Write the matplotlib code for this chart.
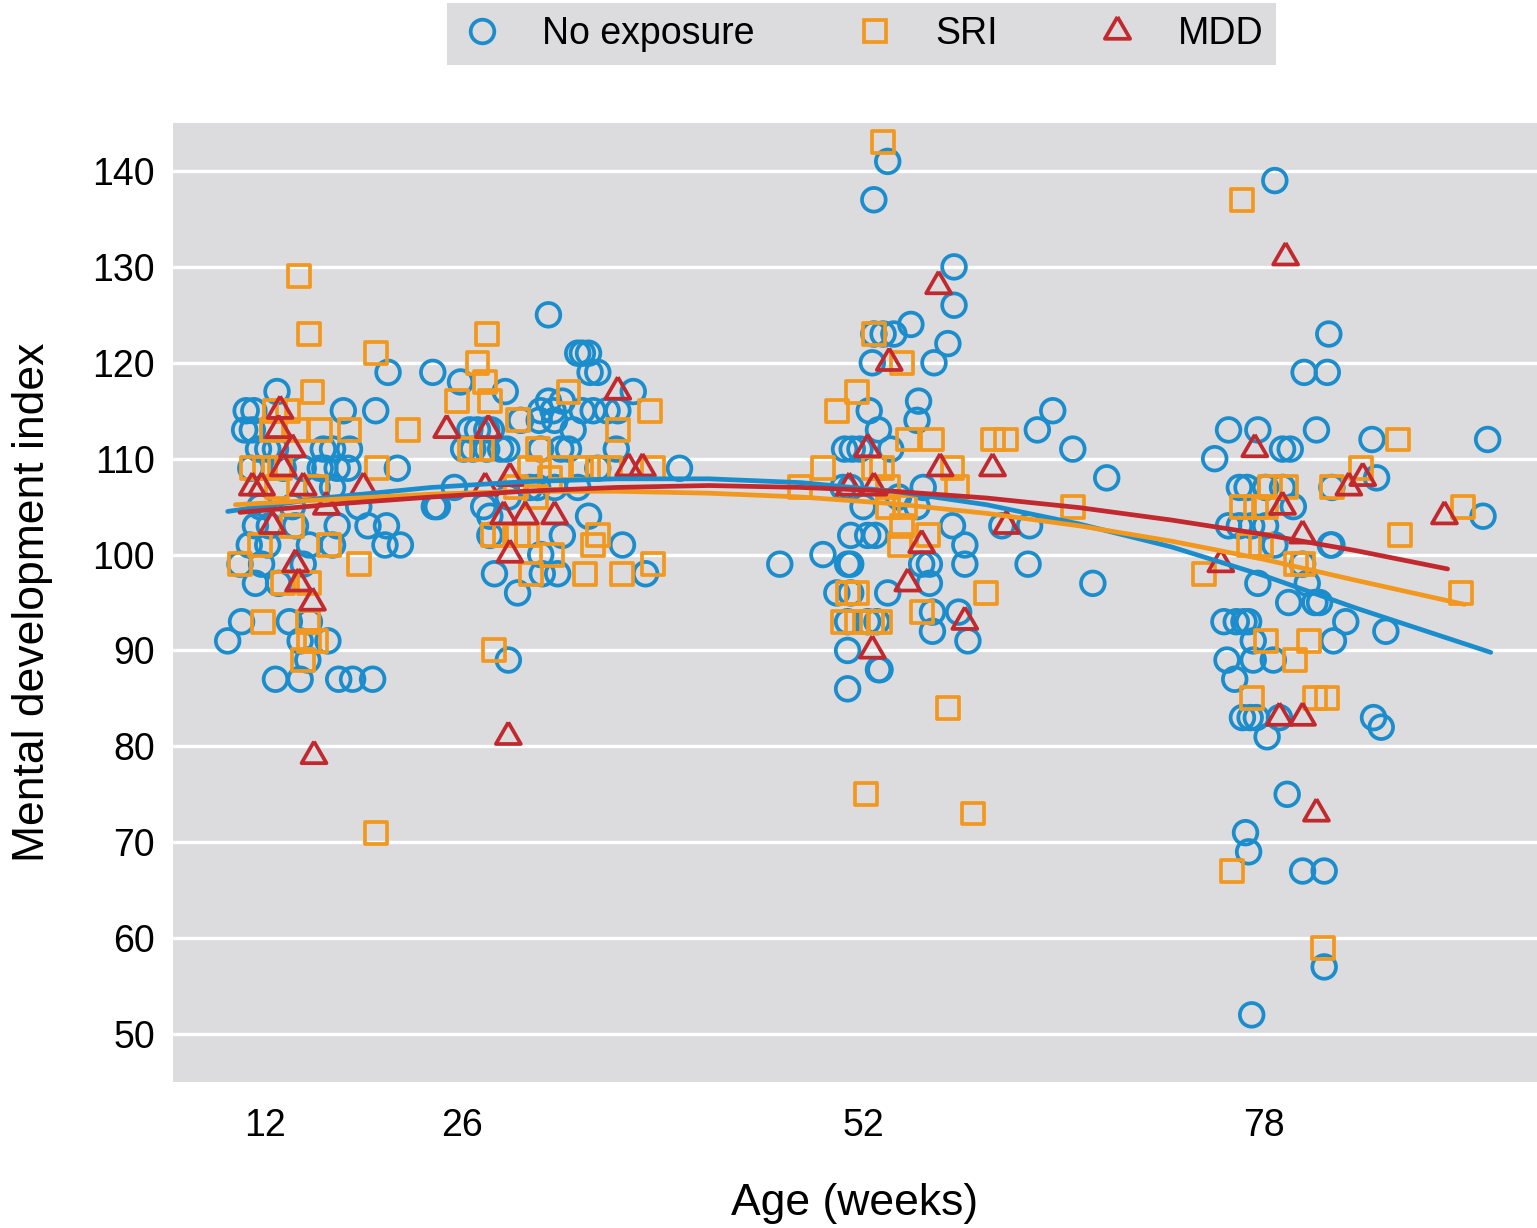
import numpy as np
import matplotlib.pyplot as plt
from matplotlib.lines import Line2D

plt.rcParams['font.family'] = ['Liberation Sans', 'DejaVu Sans']

# colours
c_none = '#1b8dcc'
c_sri = '#f2981f'
c_mdd = '#c1292e'

# ---- No exposure (age in weeks, MDI) ----
none_age = [14.0, 12.0, 12.5, 18.3, 20.4, 11.9, 12.4,
            13.4, 13.9, 17.0, 17.6, 18.7, 12.8,
            12.3, 14.4, 15.7, 16.8, 17.1, 17.9, 21.8, 18.6,
            16.6, 17.6, 12.9, 15.0, 19.3,
            12.6, 13.5, 15.2, 17.9, 19.9, 21.1,
            12.2, 13.4, 16.1, 17.6, 21.0, 22.0,
            11.6, 13.0, 15.7, 12.6, 14.1,
            11.7, 14.8, 16.1, 10.8, 15.5, 17.3, 16.0,
            13.9, 15.5, 18.0, 18.9, 20.2, 21.2,
            # 26 weeks
            31.6, 24.1, 25.9, 28.8, 33.5, 33.8, 34.2, 34.3, 34.8, 37.1, 31.6, 32.5,
            31.1, 31.9, 33.8, 34.5, 35.4, 36.1, 29.8, 31.0, 32.0,
            26.5, 27.0, 27.6, 27.9, 33.2,
            26.1, 26.7, 27.6, 28.5, 28.9, 31.1, 32.4, 32.9, 36.0, 40.1, 34.8,
            25.5, 30.4, 30.9, 32.0, 33.5, 29.0,
            24.2, 24.4, 27.4, 27.8, 27.8, 32.5, 34.2, 36.4, 31.1, 28.1, 31.2, 32.2, 37.9,
            29.6, 29.0,
            # 52 weeks
            53.6, 52.7, 57.9, 57.9, 52.7, 53.3, 54.0, 55.1, 57.5, 52.6, 56.6, 55.6, 55.5,
            52.4, 53.0, 64.3, 63.3, 65.6, 50.8, 51.3, 51.8, 53.8, 67.8,
            46.6, 49.4, 51.0, 51.2, 50.3, 51.2, 53.6, 51.0, 52.3, 52.9, 51.0, 53.0, 53.1,
            51.0, 51.2, 52.3, 52.8, 55.8, 56.3, 58.6, 58.6, 56.3, 56.5, 56.5, 58.2, 58.8,
            57.8, 62.7, 62.8, 61.0, 66.9, 52.0, 51.2, 50.7, 55.9, 54.3, 55.5,
            # 78 weeks
            78.7, 82.2, 80.6, 82.1, 75.7, 77.6, 81.4, 74.8, 79.2, 79.7, 85.0, 92.5, 85.3,
            76.4, 76.9, 78.1, 79.2, 82.4, 79.9, 75.7, 76.4, 77.2, 78.1, 82.4, 92.2, 78.7,
            75.4, 76.2, 76.7, 77.0, 83.3, 77.3, 82.5, 85.9, 75.6, 77.3, 78.6, 76.1,
            76.6, 77.1, 77.5, 79.0, 78.2, 85.1, 85.6, 79.5, 76.8, 77.0, 80.5, 81.9,
            81.9, 77.2, 77.6, 79.6, 81.3, 81.6, 80.8, 82.3, 80.5]
none_mdi = [117, 115, 115, 115, 115, 113, 113,
            111, 111, 111, 111, 111, 111,
            109, 109, 109, 109, 109, 109, 109, 109,
            107, 107, 105, 105, 105,
            103, 103, 103, 103, 103, 103,
            101, 101, 101, 101, 101, 101,
            99, 99, 99, 97, 97,
            93, 93, 93, 91, 91, 91, 89,
            87, 87, 87, 87, 87, 119,
            # 26 weeks
            125, 119, 118, 117, 121, 121, 121, 119, 119, 117, 116, 116,
            115, 115, 115, 115, 115, 115, 114, 114, 114,
            113, 113, 113, 113, 113,
            111, 111, 111, 111, 111, 111, 111, 111, 111, 109, 109,
            107, 107, 107, 107, 107, 106,
            105, 105, 105, 104, 102, 102, 104, 101, 100, 98, 98, 98, 98,
            96, 89,
            # 52 weeks
            141, 137, 130, 126, 123, 123, 123, 124, 122, 120, 120, 116, 114,
            115, 113, 115, 113, 111, 111, 111, 111, 111, 108,
            99, 100, 99, 99, 96, 96, 96, 93, 93, 93, 90, 88, 88,
            86, 102, 102, 102, 99, 99, 101, 99, 97, 94, 92, 94, 91,
            103, 99, 103, 103, 97, 105, 107, 107, 107, 106, 105,
            # 78 weeks
            139, 123, 119, 119, 113, 113, 113, 110, 111, 111, 112, 112, 108,
            107, 107, 107, 107, 107, 105, 103, 103, 103, 103, 101, 104, 101,
            93, 93, 93, 93, 93, 91, 91, 92, 89, 89, 89, 87,
            83, 83, 83, 83, 81, 83, 82, 75, 71, 69, 67, 67,
            57, 52, 97, 95, 95, 95, 97, 101, 99]

# ---- SRI ----
sri_age = [15.4, 16.1, 20.4, 16.3, 13.9, 14.7, 13.7, 15.3, 16.8, 18.7, 22.5,
           12.4, 13.2, 14.2, 20.5, 16.5, 14.0, 19.3, 11.6, 14.4, 16.1, 13.1, 16.0,
           16.1, 16.5, 15.7, 12.9, 17.4, 15.0, 20.4,
           # 26 weeks
           27.6, 27.0, 27.5, 25.7, 27.8, 32.9, 38.2, 29.6, 36.1, 26.5, 27.3, 30.9,
           34.8, 35.6, 33.7, 32.4, 38.4, 30.4, 29.5, 30.8, 31.7,
           28.0, 28.8, 29.6, 30.2, 31.8, 34.8, 34.5, 30.5, 34.0, 36.4, 38.4, 28.1,
           # 52 weeks
           53.3, 52.7, 54.5, 51.6, 50.3, 54.9, 56.5, 60.4, 61.3, 49.4, 52.7, 53.2,
           57.8, 47.9, 53.6, 58.1, 53.6, 54.7, 54.5, 56.2, 54.4, 65.6, 51.0, 51.6,
           50.7, 51.6, 52.6, 53.1, 55.8, 60.0, 57.5, 52.2, 59.1,
           # 78 weeks
           76.6, 86.7, 84.3, 82.4, 78.4, 79.4, 76.6, 77.5, 78.1, 90.9, 86.8, 77.0,
           77.8, 74.1, 90.8, 80.1, 80.5, 78.1, 80.9, 80.0, 77.2, 81.3, 82.1, 75.9, 81.8]
sri_mdi = [129, 123, 121, 117, 115, 115, 113, 113, 113, 113, 113,
           109, 109, 109, 109, 107, 107, 99, 99, 97, 97, 93, 93,
           91, 91, 89, 101, 101, 103, 71,
           # 26 weeks
           123, 120, 118, 116, 116, 117, 115, 114, 113, 111, 111, 111,
           109, 109, 109, 109, 109, 109, 107, 106, 108,
           102, 102, 102, 102, 100, 102, 101, 98, 98, 98, 99, 90,
           # 52 weeks
           143, 123, 120, 117, 115, 112, 112, 112, 112, 109, 109, 109,
           109, 107, 107, 107, 105, 105, 103, 102, 101, 105, 96, 96,
           93, 93, 93, 93, 94, 96, 84, 75, 73,
           # 78 weeks
           137, 112, 109, 107, 107, 107, 105, 105, 105, 105, 102, 101,
           101, 98, 96, 99, 99, 91, 91, 89, 85, 85, 85, 67, 59]

# ---- MDD ----
mdd_age = [14.2, 14.1, 15.0, 14.4, 12.4, 13.0, 15.7, 19.6, 17.2, 13.7, 15.2, 15.4, 16.3, 16.4,
           25.0, 27.7, 36.1, 36.8, 37.7, 29.1, 27.5, 28.7, 30.1, 32.0, 29.1, 29.0,
           56.9, 53.7, 52.3, 57.0, 60.4, 51.1, 52.7, 61.3, 55.8, 54.9, 58.6, 52.6,
           79.4, 77.4, 84.4, 83.5, 79.2, 80.5, 89.7, 75.2, 79.0, 80.5, 81.4]
mdd_mdi = [115, 113, 111, 109, 107, 107, 107, 107, 105, 103, 99, 97, 95, 79,
           113, 113, 117, 109, 109, 108, 107, 104, 104, 104, 100, 81,
           128, 120, 111, 109, 109, 107, 107, 103, 101, 97, 93, 90,
           131, 111, 108, 107, 105, 102, 104, 99, 83, 83, 73]

# ---- fitted trend lines ----
fit_none_age = [10.8, 17, 24, 30, 36, 42, 48, 54, 60, 66, 72, 78, 84, 92.7]
fit_none_mdi = [104.5, 105.9, 107.0, 107.6, 107.9, 107.9, 107.5, 106.6, 105.2, 103.2, 100.8, 97.8, 94.4, 89.8]
fit_sri_age = [11.3, 18, 24, 30, 36, 42, 48, 54, 60, 66, 72, 78, 84, 91.0]
fit_sri_mdi = [105.2, 105.8, 106.3, 106.6, 106.6, 106.4, 106.0, 105.3, 104.3, 103.0, 101.4, 99.5, 97.3, 94.8]
fit_mdd_age = [11.6, 18, 24, 30, 36, 42, 48, 54, 60, 66, 72, 78, 84, 89.9]
fit_mdd_mdi = [104.4, 105.3, 106.0, 106.6, 107.0, 107.2, 107.0, 106.6, 105.9, 104.9, 103.6, 102.1, 100.4, 98.5]

tick_pos = [13.2, 26, 52, 78]
tick_lab = ['12', '26', '52', '78']

# equilateral triangle centred on its centroid
tri = [(0, 1), (-0.866, -0.5), (0.866, -0.5), (0, 1)]

fig = plt.figure(figsize=(15.37, 12.28), dpi=100)
ax = fig.add_axes([0.1126, 0.1189, 0.8874, 0.7809])
ax.set_facecolor('#dcdcde')
for s in ax.spines.values():
    s.set_visible(False)

ax.scatter(none_age, none_mdi, s=290, marker='o', facecolors='none',
           edgecolors=c_none, linewidths=2.7, zorder=3)
ax.scatter(sri_age, sri_mdi, s=250, marker='s', facecolors='none',
           edgecolors=c_sri, linewidths=2.7, zorder=4)
ax.scatter(mdd_age, mdd_mdi, s=430, marker=tri, facecolors='none',
           edgecolors=c_mdd, linewidths=2.7, zorder=5)

ax.plot(fit_none_age, fit_none_mdi, color=c_none, lw=3.4, zorder=6, solid_capstyle='round')
ax.plot(fit_sri_age, fit_sri_mdi, color=c_sri, lw=3.4, zorder=6, solid_capstyle='round')
ax.plot(fit_mdd_age, fit_mdd_mdi, color=c_mdd, lw=3.4, zorder=6, solid_capstyle='round')

ax.set_xlim(7.26, 95.7)
ax.set_ylim(45, 145)
ax.set_yticks(np.arange(50, 141, 10))
ax.set_xticks(tick_pos)
ax.set_xticklabels(tick_lab)
ax.grid(axis='y', color='white', lw=2.4, zorder=1)
ax.set_axisbelow(True)
ax.tick_params(axis='both', length=0, labelsize=27)
ax.tick_params(axis='x', pad=19)
ax.tick_params(axis='y', pad=13)
ax.set_xlabel('Age (weeks)', fontsize=32, labelpad=28)
ax.set_ylabel('Mental development index', fontsize=32, labelpad=28)

handles = [
    Line2D([], [], ls='none', marker='o', ms=17, mfc='none', mec=c_none, mew=2.7),
    Line2D([], [], ls='none', marker='s', ms=15.5, mfc='none', mec=c_sri, mew=2.7),
    Line2D([], [], ls='none', marker=tri, ms=21, mfc='none', mec=c_mdd, mew=2.7),
]
leg = fig.legend(handles, ['No exposure', 'SRI', 'MDD'], loc='center',
                 bbox_to_anchor=(0.5605, 1 - 34 / 1228), ncol=3, fontsize=27,
                 frameon=True, fancybox=False, handlelength=1.2, handletextpad=1.0,
                 columnspacing=2.6, borderpad=0.35)
leg.get_frame().set_facecolor('#dcdcde')
leg.get_frame().set_edgecolor('none')
leg.get_frame().set_alpha(1)

fig.savefig('out.png', dpi=100)
